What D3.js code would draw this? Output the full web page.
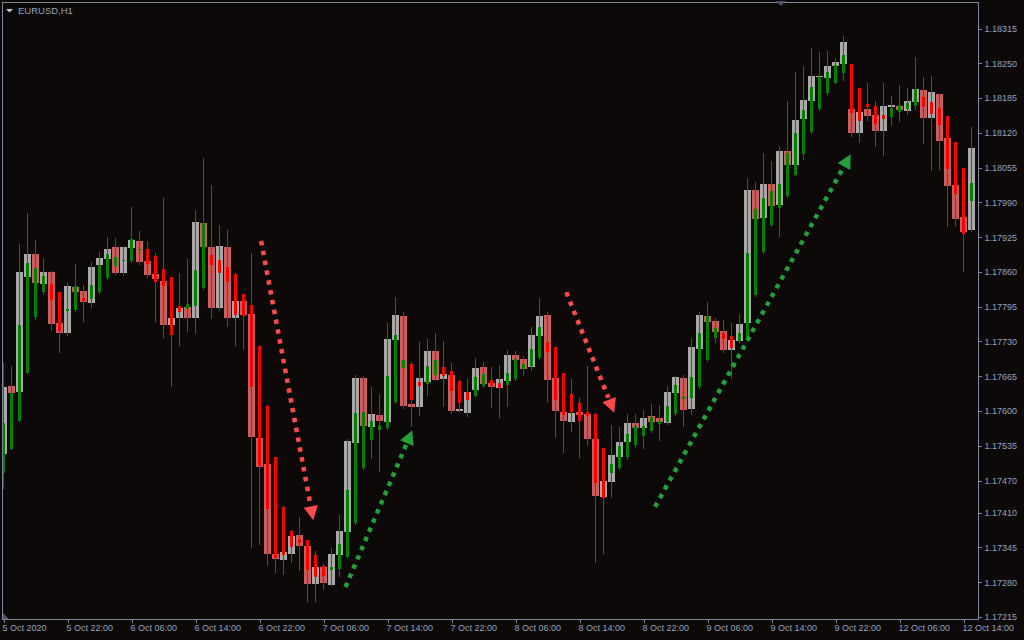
<!DOCTYPE html>
<html><head><meta charset="utf-8">
<script src="https://cdn.jsdelivr.net/npm/d3@7"></script>
<style>html,body{margin:0;padding:0;background:#0c0908;}svg{display:block}</style>
</head><body><svg id="chart" width="1024" height="640"></svg>
<script>
const symbolTitle = "EURUSD,H1";

// Regular candle bodies (open / close)
const candleOpen = [
1.17520,1.17647,1.17636,1.17851,1.17893,1.17838,1.17860,1.17765,1.17746,1.17831,
1.17824,1.17802,1.17873,1.17885,1.17907,1.17858,1.17905,1.17918,1.17880,1.17856,
1.17843,1.17761,1.17773,1.17794,1.17774,1.17951,1.17907,1.17793,1.17907,1.17773,
1.17806,1.17781,1.17550,1.17501,1.17333,1.17322,1.17333,1.17368,1.17348,1.17277,
1.17309,1.17275,1.17331,1.17374,1.17540,1.17662,1.17570,1.17593,1.17579,1.17733,
1.17778,1.17613,1.17608,1.17654,1.17712,1.17660,1.17667,1.17600,1.17596,1.17639,
1.17682,1.17652,1.17643,1.17656,1.17705,1.17697,1.17682,1.17740,1.17779,1.17662,
1.17598,1.17579,1.17598,1.17594,1.17548,1.17439,1.17467,1.17514,1.17542,1.17578,
1.17568,1.17591,1.17587,1.17578,1.17634,1.17662,1.17604,1.17716,1.17778,1.17768,
1.17750,1.17714,1.17731,1.17765,1.18013,1.17961,1.18024,1.17985,1.18086,1.18060,
1.18146,1.18179,1.18224,1.18222,1.18245,1.18249,1.18164,1.18120,1.18164,1.18153,
1.18123,1.18168,1.18170,1.18161,1.18178,1.18200,1.18148,1.18193,1.18110,1.18022,
1.17963,1.17938];
const candleClose = [
1.17644,1.17634,1.17860,1.17893,1.17840,1.17860,1.17763,1.17745,1.17834,1.17823,
1.17804,1.17869,1.17886,1.17903,1.17858,1.17907,1.17920,1.17879,1.17854,1.17847,
1.17761,1.17774,1.17793,1.17773,1.17953,1.17907,1.17793,1.17908,1.17773,1.17806,
1.17780,1.17552,1.17496,1.17333,1.17324,1.17337,1.17366,1.17348,1.17277,1.17309,
1.17279,1.17333,1.17376,1.17544,1.17662,1.17572,1.17594,1.17581,1.17735,1.17779,
1.17609,1.17608,1.17662,1.17712,1.17658,1.17669,1.17600,1.17604,1.17636,1.17680,
1.17650,1.17645,1.17660,1.17705,1.17695,1.17679,1.17742,1.17778,1.17658,1.17600,
1.17581,1.17596,1.17593,1.17548,1.17441,1.17469,1.17518,1.17542,1.17578,1.17568,
1.17587,1.17579,1.17579,1.17636,1.17664,1.17602,1.17720,1.17779,1.17766,1.17748,
1.17714,1.17733,1.17763,1.18013,1.17959,1.18024,1.17983,1.18086,1.18060,1.18144,
1.18181,1.18226,1.18226,1.18245,1.18252,1.18290,1.18120,1.18159,1.18151,1.18123,
1.18170,1.18172,1.18163,1.18179,1.18202,1.18148,1.18196,1.18105,1.18021,1.17959,
1.17935,1.18092];

// Heiken Ashi overlay: high / low (wicks) and open / close (narrow bodies)
const haHigh = [
1.17689,1.17684,1.17912,1.17970,1.17920,1.17886,1.17862,1.17822,1.17839,1.17875,
1.17836,1.17878,1.17897,1.17925,1.17923,1.17907,1.17981,1.17936,1.17918,1.17895,
1.17998,1.17850,1.17858,1.17884,1.17976,1.18073,1.18022,1.17948,1.17938,1.17858,
1.17819,1.17895,1.17722,1.17611,1.17514,1.17422,1.17378,1.17402,1.17359,1.17338,
1.17315,1.17344,1.17406,1.17548,1.17667,1.17665,1.17645,1.17632,1.17765,1.17813,
1.17785,1.17692,1.17729,1.17735,1.17746,1.17731,1.17690,1.17658,1.17662,1.17699,
1.17692,1.17682,1.17686,1.17714,1.17712,1.17703,1.17757,1.17811,1.17785,1.17720,
1.17671,1.17660,1.17624,1.17684,1.17596,1.17531,1.17574,1.17570,1.17594,1.17594,
1.17602,1.17613,1.17611,1.17647,1.17665,1.17667,1.17737,1.17785,1.17804,1.17774,
1.17770,1.17765,1.17781,1.18036,1.18028,1.18082,1.18067,1.18095,1.18179,1.18234,
1.18245,1.18279,1.18271,1.18273,1.18260,1.18301,1.18249,1.18204,1.18213,1.18179,
1.18213,1.18189,1.18209,1.18204,1.18262,1.18224,1.18226,1.18193,1.18151,1.18103,
1.18054,1.18131];
const haLow = [
1.17456,1.17529,1.17582,1.17672,1.17772,1.17819,1.17752,1.17711,1.17742,1.17787,
1.17768,1.17794,1.17821,1.17847,1.17856,1.17854,1.17879,1.17875,1.17851,1.17768,
1.17739,1.17647,1.17724,1.17750,1.17746,1.17829,1.17774,1.17789,1.17758,1.17724,
1.17716,1.17346,1.17352,1.17313,1.17300,1.17296,1.17318,1.17302,1.17245,1.17244,
1.17268,1.17275,1.17292,1.17327,1.17389,1.17492,1.17513,1.17488,1.17566,1.17615,
1.17606,1.17572,1.17593,1.17630,1.17658,1.17609,1.17596,1.17600,1.17591,1.17628,
1.17645,1.17608,1.17589,1.17609,1.17658,1.17667,1.17677,1.17697,1.17619,1.17551,
1.17523,1.17563,1.17514,1.17536,1.17318,1.17335,1.17439,1.17492,1.17510,1.17533,
1.17531,1.17561,1.17546,1.17576,1.17593,1.17572,1.17594,1.17643,1.17694,1.17729,
1.17710,1.17662,1.17729,1.17735,1.17815,1.17895,1.17946,1.17927,1.18000,1.18041,
1.18071,1.18120,1.18163,1.18191,1.18213,1.18219,1.18114,1.18103,1.18144,1.18095,
1.18079,1.18135,1.18142,1.18155,1.18164,1.18101,1.18050,1.18052,1.17946,1.17948,
1.17862,1.17936];
const haOpen = [
1.17484,1.17529,1.17582,1.17672,1.17775,1.17822,1.17837,1.17823,1.17787,1.17789,
1.17812,1.17809,1.17823,1.17848,1.17871,1.17880,1.17881,1.17901,1.17902,1.17889,
1.17866,1.17850,1.17796,1.17791,1.17796,1.17830,1.17891,1.17882,1.17870,1.17856,
1.17818,1.17798,1.17721,1.17610,1.17514,1.17420,1.17376,1.17361,1.17358,1.17331,
1.17311,1.17302,1.17305,1.17328,1.17390,1.17493,1.17546,1.17564,1.17569,1.17617,
1.17680,1.17688,1.17655,1.17651,1.17668,1.17682,1.17674,1.17656,1.17636,1.17629,
1.17647,1.17658,1.17653,1.17648,1.17660,1.17679,1.17684,1.17700,1.17729,1.17720,
1.17671,1.17632,1.17615,1.17598,1.17595,1.17530,1.17484,1.17493,1.17514,1.17536,
1.17554,1.17563,1.17576,1.17579,1.17594,1.17622,1.17624,1.17644,1.17695,1.17737,
1.17746,1.17741,1.17730,1.17738,1.17817,1.17898,1.17948,1.17980,1.18002,1.18042,
1.18081,1.18122,1.18164,1.18194,1.18214,1.18231,1.18248,1.18203,1.18173,1.18171,
1.18154,1.18150,1.18158,1.18165,1.18171,1.18187,1.18178,1.18167,1.18151,1.18102,
1.18054,1.17993];
const haClose = [
1.17577,1.17634,1.17761,1.17877,1.17868,1.17852,1.17808,1.17750,1.17791,1.17834,
1.17806,1.17836,1.17873,1.17893,1.17888,1.17882,1.17921,1.17903,1.17875,1.17842,
1.17834,1.17742,1.17785,1.17800,1.17864,1.17951,1.17873,1.17858,1.17842,1.17780,
1.17778,1.17644,1.17498,1.17417,1.17326,1.17331,1.17346,1.17354,1.17303,1.17290,
1.17292,1.17308,1.17351,1.17452,1.17596,1.17598,1.17581,1.17574,1.17665,1.17742,
1.17695,1.17621,1.17647,1.17684,1.17695,1.17665,1.17637,1.17615,1.17621,1.17664,
1.17669,1.17647,1.17643,1.17671,1.17697,1.17688,1.17716,1.17757,1.17710,1.17621,
1.17593,1.17598,1.17581,1.17591,1.17465,1.17437,1.17501,1.17535,1.17557,1.17572,
1.17572,1.17589,1.17581,1.17609,1.17649,1.17626,1.17664,1.17746,1.17778,1.17755,
1.17735,1.17718,1.17746,1.17895,1.17978,1.17998,1.18011,1.18024,1.18082,1.18120,
1.18163,1.18206,1.18224,1.18234,1.18247,1.18265,1.18157,1.18142,1.18168,1.18136,
1.18146,1.18166,1.18172,1.18176,1.18202,1.18168,1.18155,1.18135,1.18052,1.18006,
1.17931,1.18026];

// Axis labels
const priceTickLabels = ["1.18315","1.18250","1.18185","1.18120","1.18055","1.17990","1.17925","1.17860",
  "1.17795","1.17730","1.17665","1.17600","1.17535","1.17470","1.17410","1.17345","1.17280","1.17215"];
const timeTickLabels = ["5 Oct 2020","5 Oct 22:00","6 Oct 06:00","6 Oct 14:00","6 Oct 22:00","7 Oct 06:00",
  "7 Oct 14:00","7 Oct 22:00","8 Oct 06:00","8 Oct 14:00","8 Oct 22:00","9 Oct 06:00","9 Oct 14:00",
  "9 Oct 22:00","12 Oct 06:00","12 Oct 14:00"];
const barsPerTimeTick = 8;

// Trend arrows annotated on the chart (bar index, price)
const trendArrowTrend = ["down","up","down","up"];
const trendArrowFromBar = [32.2, 42.75, 70.35, 81.44];
const trendArrowFromPrice = [1.17918, 1.17271, 1.17822, 1.17421];
const trendArrowToBar = [38.73, 51.1, 76.35, 105.9];
const trendArrowToPrice = [1.17396, 1.17564, 1.17597, 1.18080];

// ---------------------------------------------------------------
const svg = d3.select("#chart");
const W = 1024, H = 640;
const P = {left: 2, top: 2, right: 978, bottom: 619};
const BG = "#0c0908", FRAME = "#80869a", TEXT = "#98a2bc";
const COL = {candleUp: "#a9a9a9", candleDown: "#cd5c5c", haUp: "#008000", haDown: "#ff0000",
  arrowDown: "#ff4a4a", arrowUp: "#22a03a"};

svg.append("rect").attr("width", W).attr("height", H).attr("fill", BG);

const n = candleOpen.length;
const x = d3.scaleLinear().domain([0, n - 1]).range([3.5, 3.5 + 8 * (n - 1)]);
const y = d3.scaleLinear().domain([1.17215, 1.18315]).range([617, 28.5]);
const yr = v => Math.round(y(v));

svg.append("defs").append("clipPath").attr("id", "plotclip")
  .append("rect").attr("x", P.left + 1).attr("y", P.top + 1)
  .attr("width", P.right - P.left - 1).attr("height", P.bottom - P.top - 1);

const g = svg.append("g").attr("clip-path", "url(#plotclip)").attr("shape-rendering", "crispEdges");
const bars = d3.range(n);

// regular candle bodies (wide)
g.append("g").selectAll("rect").data(bars).join("rect")
  .attr("x", i => x(i) - 3.5).attr("width", 7)
  .attr("y", i => yr(Math.max(candleOpen[i], candleClose[i])))
  .attr("height", i => Math.max(1, yr(Math.min(candleOpen[i], candleClose[i])) - yr(Math.max(candleOpen[i], candleClose[i]))))
  .attr("fill", i => candleClose[i] >= candleOpen[i] ? COL.candleUp : COL.candleDown);

// HA wicks
g.append("g").selectAll("line").data(bars).join("line")
  .attr("x1", i => x(i)).attr("x2", i => x(i))
  .attr("y1", i => yr(haHigh[i])).attr("y2", i => yr(haLow[i]) + 1)
  .attr("stroke", i => haClose[i] >= haOpen[i] ? COL.haUp : COL.haDown).attr("stroke-width", 1);

// HA bodies (narrow)
g.append("g").selectAll("rect").data(bars).join("rect")
  .attr("x", i => x(i) - 1.5).attr("width", 3)
  .attr("y", i => yr(Math.max(haOpen[i], haClose[i])))
  .attr("height", i => Math.max(1, yr(Math.min(haOpen[i], haClose[i])) - yr(Math.max(haOpen[i], haClose[i]))))
  .attr("fill", i => haClose[i] >= haOpen[i] ? COL.haUp : COL.haDown);

// trend arrows
const ag = svg.append("g").attr("clip-path", "url(#plotclip)");
trendArrowTrend.forEach((t, k) => {
  const x0 = x(trendArrowFromBar[k]), y0 = y(trendArrowFromPrice[k]);
  const x1 = x(trendArrowToBar[k]), y1 = y(trendArrowToPrice[k]);
  const dx = x1 - x0, dy = y1 - y0, L = Math.hypot(dx, dy);
  const ux = dx / L, uy = dy / L, nx = -uy, ny = ux;
  const hl = 14, hw = 7.2;
  const bx = x1 - ux * hl, by = y1 - uy * hl;
  const c = t === "down" ? COL.arrowDown : COL.arrowUp;
  ag.append("line").attr("x1", x0).attr("y1", y0).attr("x2", bx - ux * 2).attr("y2", by - uy * 2)
    .attr("stroke", c).attr("stroke-width", 4.5).attr("stroke-dasharray", "4.5 5.5");
  ag.append("path").attr("d", `M${x1},${y1}L${bx + nx * hw},${by + ny * hw}L${bx - nx * hw},${by - ny * hw}Z`)
    .attr("fill", c);
});

// frame
svg.append("rect").attr("x", P.left + 0.5).attr("y", P.top + 0.5)
  .attr("width", P.right - P.left).attr("height", P.bottom - P.top)
  .attr("fill", "none").attr("stroke", FRAME).attr("shape-rendering", "crispEdges");

// price axis
const yAxis = d3.axisRight(y)
  .tickValues(priceTickLabels.map(Number))
  .tickFormat((d, i) => priceTickLabels[i])
  .tickSize(3).tickPadding(3);
const ya = svg.append("g").attr("transform", `translate(${P.right + 0.5},0)`).call(yAxis);
ya.select(".domain").remove();
ya.selectAll(".tick line").attr("stroke", FRAME).attr("shape-rendering", "crispEdges");
ya.selectAll(".tick text").attr("fill", TEXT).attr("font-family", "'Liberation Sans', Arial, sans-serif")
  .attr("font-size", 9);

// time axis
const timeTickBars = timeTickLabels.map((_, j) => j * barsPerTimeTick);
const xAxis = d3.axisBottom(x).tickValues(timeTickBars)
  .tickFormat((d, i) => timeTickLabels[i]).tickSize(3).tickPadding(2);
const xa = svg.append("g").attr("transform", `translate(0,${P.bottom + 0.5})`).call(xAxis);
xa.select(".domain").remove();
xa.selectAll(".tick line").attr("stroke", FRAME).attr("shape-rendering", "crispEdges");
xa.selectAll(".tick text").attr("fill", TEXT).attr("font-family", "'Liberation Sans', Arial, sans-serif")
  .attr("font-size", 9).attr("text-anchor", "start").attr("x", -1.5);

// small markers
svg.append("path").attr("d", `M${P.left + 1},${P.bottom - 6}L${P.left + 1},${P.bottom}L${P.left + 7},${P.bottom}Z`).attr("fill", "#4a5272");
svg.append("path").attr("d", "M776,1L786,1L781,6Z").attr("fill", "#4a5272");

// title
svg.append("path").attr("d", "M6,9L13,9L9.5,12.5Z").attr("fill", "#c8c8c8");
svg.append("text").attr("x", 18).attr("y", 14).attr("fill", TEXT)
  .attr("font-family", "'Liberation Sans', Arial, sans-serif").attr("font-size", 9.5).text(symbolTitle);
</script></body></html>
